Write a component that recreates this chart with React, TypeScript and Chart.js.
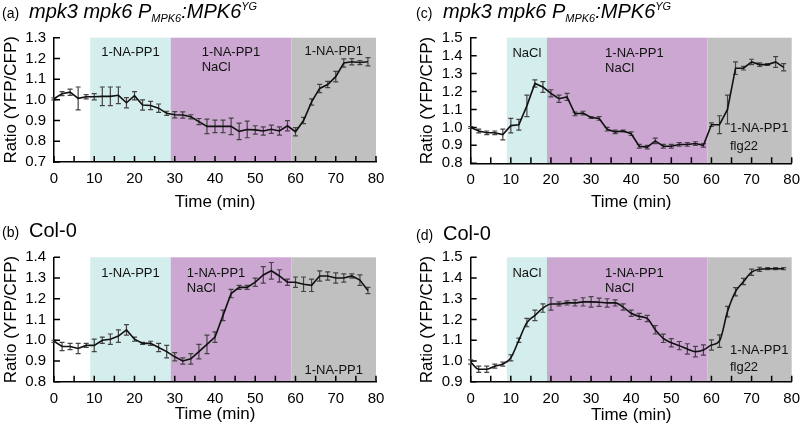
import React, { useEffect, useRef } from 'react';
import { Chart, registerables } from 'chart.js';

Chart.register(...registerables);

const FONT = "'Liberation Sans', Arial, Helvetica, sans-serif";

// ---------- data ----------
const TIMES = [0, 2, 4, 6, 8, 10, 12, 14, 16, 18, 20, 22, 24, 26, 28, 30, 32, 34, 36, 38,
  40, 42, 44, 46, 48, 50, 52, 54, 56, 58, 60, 62, 64, 66, 68, 70, 72, 74, 76, 78];

const A_VALUES = [1.005, 1.03, 1.037, 1.007, 1.015, 1.015, 1.017, 1.017, 1.022, 0.986, 1.02, 0.975, 0.973, 0.96, 0.935, 0.928, 0.927, 0.918, 0.895, 0.872,
  0.872, 0.872, 0.872, 0.848, 0.857, 0.855, 0.85, 0.858, 0.85, 0.875, 0.846, 0.9, 0.99, 1.055, 1.074, 1.112, 1.178, 1.184, 1.18, 1.184];
const A_ERRORS = [0.005, 0.01, 0.015, 0.055, 0.01, 0.015, 0.045, 0.045, 0.04, 0.025, 0.02, 0.025, 0.02, 0.02, 0.01, 0.015, 0.015, 0.01, 0.015, 0.035,
  0.03, 0.03, 0.04, 0.04, 0.04, 0.02, 0.02, 0.02, 0.02, 0.025, 0.02, 0.015, 0.015, 0.02, 0.015, 0.025, 0.02, 0.015, 0.01, 0.02];

const B_VALUES = [0.995, 0.97, 0.97, 0.96, 0.975, 0.975, 1.0, 1.005, 1.02, 1.05, 1.005, 0.985, 0.985, 0.965, 0.945, 0.92, 0.9, 0.91, 0.945, 0.98,
  1.015, 1.12, 1.225, 1.255, 1.255, 1.28, 1.315, 1.335, 1.31, 1.28, 1.28, 1.27, 1.265, 1.31, 1.31, 1.3, 1.3, 1.31, 1.29, 1.24];
const B_ERRORS = [0.005, 0.02, 0.015, 0.025, 0.01, 0.03, 0.015, 0.025, 0.03, 0.025, 0.01, 0.005, 0.01, 0.02, 0.03, 0.02, 0.015, 0.025, 0.035, 0.045,
  0.025, 0.025, 0.02, 0.01, 0.01, 0.02, 0.04, 0.04, 0.03, 0.015, 0.025, 0.035, 0.03, 0.025, 0.02, 0.025, 0.02, 0.01, 0.025, 0.015];

const C_VALUES = [1.0, 0.98, 0.97, 0.97, 0.96, 1.01, 1.015, 1.12, 1.245, 1.225, 1.19, 1.16, 1.17, 1.075, 1.08, 1.055, 1.05, 0.99, 0.975, 0.98,
  0.965, 0.895, 0.89, 0.925, 0.895, 0.895, 0.905, 0.905, 0.91, 0.9, 1.015, 1.015, 1.1, 1.33, 1.33, 1.365, 1.35, 1.35, 1.365, 1.335];
const C_ERRORS = [0.005, 0.01, 0.01, 0.01, 0.03, 0.04, 0.03, 0.06, 0.02, 0.03, 0.02, 0.02, 0.02, 0.01, 0.01, 0.005, 0.01, 0.01, 0.01, 0.005,
  0.01, 0.01, 0.01, 0.015, 0.01, 0.01, 0.01, 0.01, 0.01, 0.01, 0.01, 0.05, 0.08, 0.035, 0.01, 0.015, 0.01, 0.005, 0.03, 0.02];

const D_VALUES = [0.995, 0.96, 0.96, 0.975, 0.985, 1.015, 1.1, 1.185, 1.22, 1.255, 1.275, 1.275, 1.28, 1.28, 1.285, 1.285, 1.283, 1.28, 1.28, 1.26,
  1.23, 1.215, 1.205, 1.15, 1.109, 1.088, 1.074, 1.058, 1.045, 1.053, 1.077, 1.096, 1.238, 1.334, 1.383, 1.428, 1.442, 1.445, 1.445, 1.445];
const D_ERRORS = [0.01, 0.015, 0.015, 0.01, 0.01, 0.015, 0.01, 0.02, 0.025, 0.02, 0.03, 0.01, 0.01, 0.015, 0.02, 0.025, 0.02, 0.02, 0.015, 0.015,
  0.015, 0.015, 0.015, 0.02, 0.02, 0.02, 0.02, 0.025, 0.025, 0.025, 0.025, 0.03, 0.025, 0.02, 0.015, 0.015, 0.01, 0.005, 0.005, 0.005];

// treatment period boundaries (min)
const PERIODS_AB = [9, 29, 59, 80];
const PERIODS_CD = [9, 19, 59, 80];

type Note = { t: number; v: number; lines: string[]; align: 'center' | 'left'; gap: number };

const A_NOTES: Note[] = [
  { t: 19, v: 1.227, lines: ['1-NA-PP1'], align: 'center', gap: 15 },
  { t: 36.7, v: 1.227, lines: ['1-NA-PP1', 'NaCl'], align: 'left', gap: 15 },
  { t: 69.5, v: 1.232, lines: ['1-NA-PP1'], align: 'center', gap: 15 },
];
const B_NOTES: Note[] = [
  { t: 19, v: 1.324, lines: ['1-NA-PP1'], align: 'center', gap: 15 },
  { t: 33.0, v: 1.324, lines: ['1-NA-PP1', 'NaCl'], align: 'left', gap: 15 },
  { t: 69.5, v: 0.856, lines: ['1-NA-PP1'], align: 'center', gap: 15 },
];
const C_NOTES: Note[] = [
  { t: 14, v: 1.413, lines: ['NaCl'], align: 'center', gap: 15 },
  { t: 33.5, v: 1.413, lines: ['1-NA-PP1', 'NaCl'], align: 'left', gap: 15 },
  { t: 64.6, v: 0.995, lines: ['1-NA-PP1', 'flg22'], align: 'left', gap: 18 },
];
const D_NOTES: Note[] = [
  { t: 14, v: 1.424, lines: ['NaCl'], align: 'center', gap: 15 },
  { t: 33.5, v: 1.424, lines: ['1-NA-PP1', 'NaCl'], align: 'left', gap: 15 },
  { t: 64.6, v: 1.053, lines: ['1-NA-PP1', 'flg22'], align: 'left', gap: 17 },
];

// ---------- styles ----------
const BAND_COLORS = ['#d3eeec', '#cba7d1', '#c0c0c0'];

type Geo = { x: number; y: number; w: number; h: number; pl: number; pr: number; pt: number; yw: number; xh: number; xtp: number };

type PanelProps = {
  geo: Geo; values: number[]; errors: number[]; yMin: number; yMax: number;
  periods: number[]; notes: Note[]; smooth: boolean;
};

function Panel({ geo, values, errors, yMin, yMax, periods, notes, smooth }: PanelProps) {
  const ref = useRef<HTMLCanvasElement>(null);
  useEffect(() => {
    const canvas = ref.current;
    if (!canvas) return;
    const deco = {
      id: 'deco',
      beforeDraw(chart: any) {
        const { ctx, chartArea, scales } = chart;
        const x = scales.x;
        ctx.save();
        for (let i = 0; i < periods.length - 1; i++) {
          const x1 = x.getPixelForValue(periods[i]);
          const x2 = x.getPixelForValue(periods[i + 1]);
          ctx.fillStyle = BAND_COLORS[i];
          ctx.fillRect(x1, chartArea.top, x2 - x1, chartArea.bottom - chartArea.top);
        }
        ctx.restore();
      },
      beforeDatasetsDraw(chart: any) {
        const { ctx, scales } = chart;
        const x = scales.x;
        const y = scales.y;
        ctx.save();
        ctx.font = `13px ${FONT}`;
        ctx.fillStyle = '#111';
        ctx.textBaseline = 'middle';
        notes.forEach((n) => {
          const px = x.getPixelForValue(n.t);
          const py = y.getPixelForValue(n.v);
          ctx.textAlign = n.align;
          n.lines.forEach((ln, k) => ctx.fillText(ln, px, py + k * n.gap));
        });
        ctx.strokeStyle = '#444';
        ctx.lineWidth = 1.2;
        ctx.beginPath();
        TIMES.forEach((t, i) => {
          const e = errors[i];
          if (!e) return;
          const px = x.getPixelForValue(t);
          const y1 = y.getPixelForValue(values[i] - e);
          const y2 = y.getPixelForValue(values[i] + e);
          ctx.moveTo(px, y1);
          ctx.lineTo(px, y2);
          ctx.moveTo(px - 2.5, y1);
          ctx.lineTo(px + 2.5, y1);
          ctx.moveTo(px - 2.5, y2);
          ctx.lineTo(px + 2.5, y2);
        });
        ctx.stroke();
        ctx.restore();
      },
      afterDraw(chart: any) {
        const { ctx, chartArea, scales } = chart;
        const x = scales.x;
        const y = scales.y;
        ctx.save();
        ctx.strokeStyle = '#000';
        ctx.lineWidth = 1.5;
        ctx.beginPath();
        for (let t = 0; t <= 80; t += 5) {
          const px = x.getPixelForValue(t);
          ctx.moveTo(px, chartArea.bottom);
          ctx.lineTo(px, chartArea.bottom - 6);
        }
        y.ticks.forEach((tk: any) => {
          const py = y.getPixelForValue(tk.value);
          ctx.moveTo(chartArea.left, py);
          ctx.lineTo(chartArea.left + 6, py);
        });
        ctx.stroke();
        ctx.restore();
      },
    };

    const chart = new Chart(canvas, {
      type: 'line',
      data: {
        datasets: [
          {
            data: TIMES.map((t, i) => ({ x: t, y: values[i] })),
            borderColor: '#111',
            borderWidth: 1.6,
            pointRadius: 0,
            fill: false,
            tension: smooth ? 0.4 : 0,
            cubicInterpolationMode: smooth ? 'monotone' : 'default',
          } as any,
        ],
      },
      options: {
        animation: false,
        responsive: false,
        devicePixelRatio: 1,
        events: [],
        layout: { padding: { left: geo.pl, right: geo.pr, top: geo.pt, bottom: 0 } },
        plugins: { legend: { display: false }, tooltip: { enabled: false } },
        scales: {
          x: {
            type: 'linear',
            min: 0,
            max: 80,
            grid: { display: false, drawTicks: false },
            border: { display: true, color: '#000', width: 1.5 },
            ticks: { stepSize: 10, padding: 8, color: '#000', font: { size: 15, family: FONT }, maxRotation: 0, autoSkip: false },
            title: { display: true, text: 'Time (min)', color: '#000', font: { size: 17, family: FONT }, padding: { top: 0, bottom: geo.xtp } },
            afterFit: (s: any) => { s.height = geo.xh; s.paddingLeft = 0; s.paddingRight = 0; },
          },
          y: {
            type: 'linear',
            min: yMin,
            max: yMax,
            grid: { display: false, drawTicks: false },
            border: { display: true, color: '#000', width: 1.5 },
            ticks: { stepSize: 0.1, padding: 8, autoSkip: false, color: '#000', font: { size: 15, family: FONT }, callback: (v: any) => Number(v).toFixed(1) },
            title: { display: true, text: 'Ratio (YFP/CFP)', color: '#000', font: { size: 17, family: FONT }, padding: { top: 1, bottom: 0 } },
            afterFit: (s: any) => { s.width = geo.yw; s.paddingTop = 0; s.paddingBottom = 0; },
          },
        },
      } as any,
      plugins: [deco],
    });
    return () => chart.destroy();
  }, []);
  return (
    <canvas
      ref={ref}
      width={geo.w}
      height={geo.h}
      style={{ position: 'absolute', left: geo.x, top: geo.y, width: geo.w, height: geo.h }}
    />
  );
}

const subStyle: React.CSSProperties = { fontSize: 11, position: 'relative', top: 4.5 };
const supStyle: React.CSSProperties = { fontSize: 11, position: 'relative', top: -7.5 };

function Title({ x, y, tag, children }: { x: number; y: number; tag: string; children: React.ReactNode }) {
  return (
    <div style={{ position: 'absolute', left: x, top: y, fontFamily: FONT, fontSize: 20, lineHeight: '20px', whiteSpace: 'nowrap', color: '#000' }}>
      <span style={{ display: 'inline-block', width: 27, fontSize: 14 }}>{tag}</span>
      {children}
    </div>
  );
}

function Genotype() {
  return (
    <i>
      mpk3 mpk6 P<span style={subStyle}>MPK6</span>:MPK6<span style={supStyle}>YG</span>
    </i>
  );
}

export default function App() {
  return (
    <div style={{ position: 'fixed', left: 0, top: 0, width: 800, height: 429, background: '#fff', overflow: 'hidden' }}>
      <Panel geo={{ x: 0, y: 0, w: 400, h: 215, pl: 0, pr: 24, pt: 37.7, yw: 54, xh: 53, xtp: 2 }}
        values={A_VALUES} errors={A_ERRORS} yMin={0.7} yMax={1.3} periods={PERIODS_AB} notes={A_NOTES} smooth={false} />
      <Panel geo={{ x: 0, y: 215, w: 400, h: 214, pl: 0, pr: 24, pt: 42.3, yw: 54, xh: 47.3, xtp: 4 }}
        values={B_VALUES} errors={B_ERRORS} yMin={0.8} yMax={1.4} periods={PERIODS_AB} notes={B_NOTES} smooth={false} />
      <Panel geo={{ x: 400, y: 0, w: 400, h: 215, pl: 16, pr: 8.3, pt: 37.7, yw: 54.7, xh: 51.7, xtp: 2.5 }}
        values={C_VALUES} errors={C_ERRORS} yMin={0.8} yMax={1.5} periods={PERIODS_CD} notes={C_NOTES} smooth={false} />
      <Panel geo={{ x: 400, y: 215, w: 400, h: 214, pl: 16, pr: 8.3, pt: 42.3, yw: 54.7, xh: 47.3, xtp: 3 }}
        values={D_VALUES} errors={D_ERRORS} yMin={0.9} yMax={1.5} periods={PERIODS_CD} notes={D_NOTES} smooth={true} />
      <Title x={2} y={0.6} tag="(a)"><Genotype /></Title>
      <Title x={416} y={0.6} tag="(c)"><Genotype /></Title>
      <Title x={2} y={219.8} tag="(b)">Col-0</Title>
      <Title x={416} y={223} tag="(d)">Col-0</Title>
    </div>
  );
}
